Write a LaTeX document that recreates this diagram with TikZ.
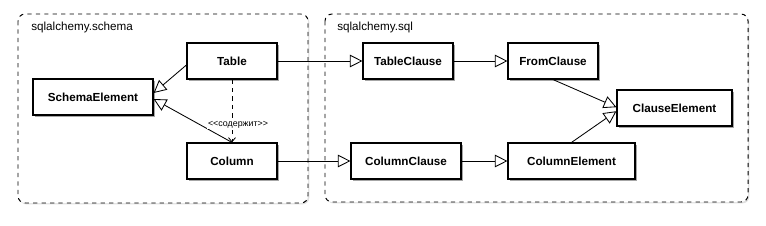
\documentclass[tikz,border=0pt]{standalone}
\usepackage{fontspec}
\setmainfont{Liberation Sans}
\usepackage{tikz}
\usetikzlibrary{arrows.meta,positioning,shadows}

\begin{document}
\begin{tikzpicture}[
    x=0.025cm, y=-0.025cm,
    klasse/.style={rectangle, draw=black, line width=0.8pt, fill=white, minimum height=0.9cm, inner sep=0pt,
        font=\fontsize{8.3}{10}\selectfont\bfseries,
        drop shadow={shadow xshift=1.3pt, shadow yshift=-1.3pt, fill=black, opacity=0.35}},
    paket/.style={draw=black, line width=0.7pt, dashed, rounded corners=5pt, fill=white,
        drop shadow={shadow xshift=1pt, shadow yshift=-1pt, fill=black, opacity=0.12}},
    paketname/.style={anchor=west, inner sep=0pt, font=\fontsize{8.3}{10}\selectfont},
    erbt/.style={-{Triangle[length=9pt, width=9pt, fill=white]}, line width=0.6pt},
    enthaelt/.style={-{Straight Barb[length=3pt, width=5pt]}, dashed, line width=0.6pt},
    stereo/.style={font=\fontsize{6.3}{7}\selectfont, fill=white, inner sep=0.6pt}
]
\useasboundingbox (0,0) rectangle (766,225);
% ---------- packages ----------
\draw[paket] (18,14) rectangle (308,203);
\draw[paket] (325,14) rectangle (748,202);
\node[paketname] (lschema) at (31,27) {sqlalchemy.schema};
\node[paketname] (lsql) at (337,27) {sqlalchemy.sql};
% ---------- sqlalchemy.schema ----------
\node[klasse, minimum width=2.25cm] (table)  at (232,61)  {Table};
\node[klasse, minimum width=3cm]    (schema) at (93,97)   {SchemaElement};
\node[klasse, minimum width=2.25cm] (column) at (232,161) {Column};
% ---------- sqlalchemy.sql ----------
\node[klasse, minimum width=2.25cm]  (tclause) at (408,61)    {TableClause};
\node[klasse, minimum width=2.25cm]  (fclause) at (553,61)    {FromClause};
\node[klasse, minimum width=2.875cm] (celem)   at (674.5,108) {ClauseElement};
\node[klasse, minimum width=2.75cm]  (cclause) at (406,161)   {ColumnClause};
\node[klasse, minimum width=3.175cm] (colelem) at (571.5,161) {ColumnElement};
% ---------- connectors ----------
\draw[erbt] ([yshift=-0.1cm]table.west) -- ([yshift=0.1cm]schema.east);
\draw[erbt] (column.north) -- ([yshift=-0.05cm]schema.east);
\draw[enthaelt] (table.south) -- (column.north)
    node[stereo, pos=0.72, xshift=0.15cm] (lcont) {<\kern0pt<содержит>\kern0pt>};
\draw[erbt] (table) -- (tclause);
\draw[erbt] (tclause) -- (fclause);
\draw[erbt] (column) -- (cclause);
\draw[erbt] (cclause) -- (colelem);
\draw[erbt] (fclause.south) -- ([yshift=0.02cm]celem.west);
\draw[erbt] (colelem.north) -- ([yshift=-0.08cm]celem.west);
\end{tikzpicture}
\end{document}
